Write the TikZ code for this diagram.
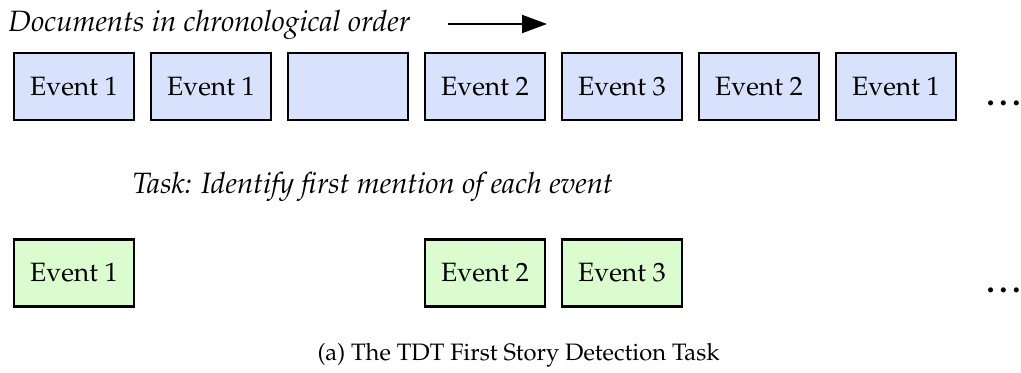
\documentclass[tikz,border=0pt]{standalone}
\usepackage[T1]{fontenc}
\usepackage{mathpazo}
\usetikzlibrary{arrows.meta}
\definecolor{docblue}{RGB}{216,226,252}
\definecolor{firstgreen}{RGB}{218,252,207}
\tikzset{
  evbox/.style={draw=black, line width=0.85pt, minimum width=48pt, minimum height=26.8pt, inner sep=0pt, font=\fontsize{10.6}{12}\selectfont},
  docbox/.style={evbox, fill=docblue},
  firstbox/.style={evbox, fill=firstgreen},
  lbl/.style={inner sep=0pt, anchor=base west, font=\fontsize{11.75}{14}\selectfont\itshape},
  captxt/.style={inner sep=0pt, anchor=base west, font=\fontsize{9.5}{11}\selectfont},
  dotstxt/.style={inner sep=0pt, anchor=base west, font=\fontsize{13}{15}\selectfont\bfseries},
}
\begin{document}
\begin{tikzpicture}[x=0.4pt,y=-0.4pt]
\useasboundingbox (0,0) rectangle (1021,373);
\node[lbl] (doclabel) at (8,32) {Documents in chronological order};
\coordinate (arrS) at (448,24);
\coordinate (arrE) at (547,24);
\draw[line width=0.8pt, -{Triangle[length=10pt,width=7.2pt]}] (arrS) -- (arrE);
\node[docbox] (d1) at (74,86.5) {Event 1};
\node[docbox] (d2) at (211,86.5) {Event 1};
\node[docbox] (d3) at (348,86.5) {};
\node[docbox] (d4) at (485,86.5) {Event 2};
\node[docbox] (d5) at (622,86.5) {Event 3};
\node[docbox] (d6) at (759,86.5) {Event 2};
\node[docbox] (d7) at (896,86.5) {Event 1};
\node[dotstxt] (dtop) at (986,106) {\ldots};
\node[lbl] (task) at (132,193) {Task: Identify first mention of each event};
\node[firstbox] (f1) at (74,273) {Event 1};
\node[firstbox] (f2) at (485,273) {Event 2};
\node[firstbox] (f3) at (622,273) {Event 3};
\node[dotstxt] (dbot) at (986,292) {\ldots};
\node[captxt] (caption) at (317,360) {(a) The TDT First Story Detection Task};
\end{tikzpicture}
\end{document}
